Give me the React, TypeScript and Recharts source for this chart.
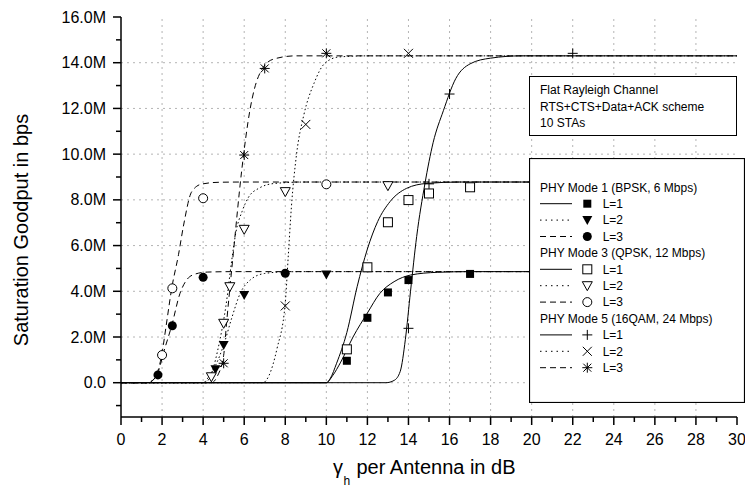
import React from "react";
import { ComposedChart, Line, Scatter, XAxis, YAxis, ReferenceLine, Legend } from "recharts";

const FONT = "'Liberation Sans', Arial, sans-serif";

// axis ticks (x in dB, y in Mbps)
const xTicks = [0, 1, 2, 3, 4, 5, 6, 7, 8, 9, 10, 11, 12, 13, 14, 15, 16, 17, 18, 19, 20, 21, 22, 23, 24, 25, 26, 27, 28, 29, 30];
const yTicks = [-1, 0, 1, 2, 3, 4, 5, 6, 7, 8, 9, 10, 11, 12, 13, 14, 15, 16];
const gridX = [2, 4, 6, 8, 10, 12, 14, 16, 18, 20, 22, 24, 26, 28];
const gridY = [0, 2, 4, 6, 8, 10, 12, 14];

type Pt = { x: number; y: number };

// PHY Mode 1 (BPSK)
const bpskL1Curve: Pt[] = [
  { x: 0, y: 0 }, { x: 10, y: 0 }, { x: 10.3, y: 0.3 }, { x: 10.7, y: 0.9 }, { x: 11.3, y: 2.0 },
  { x: 12, y: 3.05 }, { x: 12.6, y: 3.9 }, { x: 13.3, y: 4.42 }, { x: 14.1, y: 4.71 },
  { x: 15.4, y: 4.83 }, { x: 17, y: 4.86 }, { x: 30, y: 4.86 },
];
const bpskL1Pts: Pt[] = [
  { x: 11, y: 0.96 }, { x: 12, y: 2.84 }, { x: 13, y: 3.95 }, { x: 14, y: 4.49 }, { x: 17, y: 4.76 },
];
const bpskL2Curve: Pt[] = [
  { x: 0, y: 0 }, { x: 4.0, y: 0 }, { x: 4.3, y: 0.3 }, { x: 4.6, y: 0.75 }, { x: 5.0, y: 1.65 },
  { x: 5.4, y: 2.85 }, { x: 5.8, y: 3.9 }, { x: 6.3, y: 4.5 }, { x: 7.0, y: 4.78 },
  { x: 8, y: 4.85 }, { x: 9, y: 4.86 }, { x: 30, y: 4.86 },
];
const bpskL2Pts: Pt[] = [
  { x: 4.6, y: 0.59 }, { x: 5, y: 1.65 }, { x: 6, y: 3.84 }, { x: 10, y: 4.73 },
];
const bpskL3Curve: Pt[] = [
  { x: 0, y: 0 }, { x: 1.2, y: 0 }, { x: 1.5, y: 0.08 }, { x: 1.8, y: 0.45 }, { x: 2.1, y: 1.4 },
  { x: 2.47, y: 2.5 }, { x: 2.87, y: 3.9 }, { x: 3.2, y: 4.5 }, { x: 3.6, y: 4.75 },
  { x: 4.2, y: 4.84 }, { x: 5.5, y: 4.86 }, { x: 30, y: 4.86 },
];
const bpskL3Pts: Pt[] = [
  { x: 1.8, y: 0.34 }, { x: 2.5, y: 2.49 }, { x: 4, y: 4.61 }, { x: 8, y: 4.79 },
];

// PHY Mode 3 (QPSK)
const qpskL1Curve: Pt[] = [
  { x: 0, y: 0 }, { x: 10, y: 0 }, { x: 10.2, y: 0.2 }, { x: 10.5, y: 0.85 }, { x: 11, y: 2.2 },
  { x: 11.5, y: 4.2 }, { x: 12, y: 5.85 }, { x: 12.5, y: 7.05 }, { x: 13.1, y: 7.92 },
  { x: 13.9, y: 8.5 }, { x: 14.9, y: 8.72 }, { x: 16.5, y: 8.78 }, { x: 30, y: 8.78 },
];
const qpskL1Pts: Pt[] = [
  { x: 11, y: 1.46 }, { x: 12, y: 5.05 }, { x: 13, y: 7.02 }, { x: 14, y: 7.99 }, { x: 15, y: 8.28 }, { x: 17, y: 8.55 },
];
const qpskL2Curve: Pt[] = [
  { x: 0, y: 0 }, { x: 4.1, y: 0 }, { x: 4.4, y: 0.4 }, { x: 4.8, y: 1.8 }, { x: 5.1, y: 3.3 },
  { x: 5.4, y: 5.4 }, { x: 5.6, y: 6.6 }, { x: 5.9, y: 7.5 }, { x: 6.2, y: 8.1 },
  { x: 6.7, y: 8.5 }, { x: 7.5, y: 8.72 }, { x: 9, y: 8.78 }, { x: 30, y: 8.78 },
];
const qpskL2Pts: Pt[] = [
  { x: 4.4, y: 0.26 }, { x: 5, y: 2.6 }, { x: 5.3, y: 4.2 }, { x: 6, y: 6.71 }, { x: 8, y: 8.36 }, { x: 13, y: 8.62 },
];
const qpskL3Curve: Pt[] = [
  { x: 0, y: 0 }, { x: 1.3, y: 0 }, { x: 1.6, y: 0.15 }, { x: 1.98, y: 1.2 }, { x: 2.2, y: 2.5 },
  { x: 2.47, y: 4.13 }, { x: 2.8, y: 5.6 }, { x: 3.05, y: 6.9 }, { x: 3.44, y: 8.35 },
  { x: 3.93, y: 8.69 }, { x: 4.8, y: 8.77 }, { x: 6, y: 8.78 }, { x: 30, y: 8.78 },
];
const qpskL3Pts: Pt[] = [
  { x: 2, y: 1.21 }, { x: 2.5, y: 4.13 }, { x: 4, y: 8.07 }, { x: 10, y: 8.68 },
];

// PHY Mode 5 (16QAM)
const qamL1Curve: Pt[] = [
  { x: 0, y: 0 }, { x: 12.9, y: 0 }, { x: 13.3, y: 0.1 }, { x: 13.6, y: 0.5 }, { x: 13.85, y: 1.9 },
  { x: 14.1, y: 4.0 }, { x: 14.4, y: 6.4 }, { x: 14.8, y: 8.7 }, { x: 15.2, y: 10.5 },
  { x: 15.7, y: 11.9 }, { x: 16.3, y: 13.3 }, { x: 17, y: 13.95 }, { x: 18, y: 14.2 },
  { x: 19.5, y: 14.3 }, { x: 30, y: 14.3 },
];
const qamL1Pts: Pt[] = [
  { x: 14, y: 2.38 }, { x: 15, y: 8.7 }, { x: 16, y: 12.63 }, { x: 22, y: 14.41 },
];
const qamL2Curve: Pt[] = [
  { x: 0, y: 0 }, { x: 6.9, y: 0 }, { x: 7.2, y: 0.3 }, { x: 7.6, y: 1.5 }, { x: 8.0, y: 3.5 },
  { x: 8.15, y: 5.6 }, { x: 8.3, y: 7.7 }, { x: 8.55, y: 10.0 }, { x: 8.9, y: 11.7 },
  { x: 9.4, y: 13.1 }, { x: 9.9, y: 13.95 }, { x: 10.6, y: 14.25 }, { x: 12, y: 14.3 }, { x: 30, y: 14.3 },
];
const qamL2Pts: Pt[] = [
  { x: 8, y: 3.36 }, { x: 9, y: 11.3 }, { x: 14, y: 14.41 },
];
const qamL3Curve: Pt[] = [
  { x: 0, y: 0 }, { x: 4.4, y: 0 }, { x: 4.7, y: 0.3 }, { x: 5.0, y: 1.2 }, { x: 5.15, y: 2.7 },
  { x: 5.47, y: 5.66 }, { x: 5.88, y: 9.3 }, { x: 6.28, y: 11.93 }, { x: 6.69, y: 13.39 },
  { x: 7.4, y: 14.15 }, { x: 8.5, y: 14.3 }, { x: 30, y: 14.3 },
];
const qamL3Pts: Pt[] = [
  { x: 5, y: 0.85 }, { x: 6, y: 9.96 }, { x: 7, y: 13.75 }, { x: 10, y: 14.41 },
];

const legendGroups = ["PHY Mode 1 (BPSK, 6 Mbps)", "PHY Mode 3 (QPSK, 12 Mbps)", "PHY Mode 5 (16QAM, 24 Mbps)"];
const noteLines = ["Flat Rayleigh Channel", "RTS+CTS+Data+ACK scheme", "10 STAs"];

const SOLID = "";
const DOT = "1.5 2.5";
const DASH = "6 4";

const series = [
  { label: "L=1", curve: bpskL1Curve, pts: bpskL1Pts, dash: SOLID, marker: "squareF" },
  { label: "L=2", curve: bpskL2Curve, pts: bpskL2Pts, dash: DOT, marker: "triF" },
  { label: "L=3", curve: bpskL3Curve, pts: bpskL3Pts, dash: DASH, marker: "circleF" },
  { label: "L=1", curve: qpskL1Curve, pts: qpskL1Pts, dash: SOLID, marker: "squareO" },
  { label: "L=2", curve: qpskL2Curve, pts: qpskL2Pts, dash: DOT, marker: "triO" },
  { label: "L=3", curve: qpskL3Curve, pts: qpskL3Pts, dash: DASH, marker: "circleO" },
  { label: "L=1", curve: qamL1Curve, pts: qamL1Pts, dash: SOLID, marker: "plus" },
  { label: "L=2", curve: qamL2Curve, pts: qamL2Pts, dash: DOT, marker: "cross" },
  { label: "L=3", curve: qamL3Curve, pts: qamL3Pts, dash: DASH, marker: "star" },
];

function Marker({ kind, cx, cy }: { kind: string; cx: number; cy: number }) {
  const k = "#000";
  switch (kind) {
    case "squareF":
      return <rect x={cx - 4} y={cy - 4} width={8} height={8} fill={k} />;
    case "squareO":
      return <rect x={cx - 4.5} y={cy - 4.5} width={9} height={9} fill="#fff" stroke={k} strokeWidth={1} />;
    case "triF":
      return <polygon points={`${cx - 5},${cy - 4} ${cx + 5},${cy - 4} ${cx},${cy + 5}`} fill={k} />;
    case "triO":
      return <polygon points={`${cx - 5},${cy - 4} ${cx + 5},${cy - 4} ${cx},${cy + 5}`} fill="#fff" stroke={k} strokeWidth={1} />;
    case "circleF":
      return <circle cx={cx} cy={cy} r={4.5} fill={k} />;
    case "circleO":
      return <circle cx={cx} cy={cy} r={4.5} fill="#fff" stroke={k} strokeWidth={1} />;
    case "plus":
      return (
        <g stroke={k} strokeWidth={1}>
          <line x1={cx - 5} x2={cx + 5} y1={cy} y2={cy} />
          <line x1={cx} x2={cx} y1={cy - 5} y2={cy + 5} />
        </g>
      );
    case "cross":
      return (
        <g stroke={k} strokeWidth={1}>
          <line x1={cx - 4.5} x2={cx + 4.5} y1={cy - 4.5} y2={cy + 4.5} />
          <line x1={cx - 4.5} x2={cx + 4.5} y1={cy + 4.5} y2={cy - 4.5} />
        </g>
      );
    default:
      return (
        <g stroke={k} strokeWidth={1}>
          <line x1={cx - 4} x2={cx + 4} y1={cy - 4} y2={cy + 4} />
          <line x1={cx - 4} x2={cx + 4} y1={cy + 4} y2={cy - 4} />
          <line x1={cx} x2={cx} y1={cy - 5} y2={cy + 5} />
          <line x1={cx - 5} x2={cx + 5} y1={cy} y2={cy} />
        </g>
      );
  }
}

const fmtY = (v: number) => (v === 0 ? "0.0" : `${v.toFixed(1)}M`);

const LeftTick = (p: any) => {
  const v = p.payload.value;
  const major = v % 2 === 0;
  return (
    <g>
      <line x1={p.x} x2={p.x - (major ? 8 : 5)} y1={p.y} y2={p.y} stroke="#000" strokeWidth={1.5} />
      {major && v >= 0 && (
        <text x={p.x - 15} y={p.y} dy="0.35em" textAnchor="end" fontSize={16} fontFamily={FONT} fill="#000">
          {fmtY(v)}
        </text>
      )}
    </g>
  );
};

const RightTick = (p: any) => {
  const major = p.payload.value % 2 === 0;
  return <line x1={p.x} x2={p.x - (major ? 8 : 5)} y1={p.y} y2={p.y} stroke="#000" strokeWidth={1.5} />;
};

const BottomTick = (p: any) => {
  const v = p.payload.value;
  const major = v % 2 === 0;
  return (
    <g>
      <line x1={p.x} x2={p.x} y1={p.y} y2={p.y + (major ? 8 : 5)} stroke="#000" strokeWidth={1.5} />
      {major && (
        <text x={p.x} y={p.y + 22} dy="0.35em" textAnchor="middle" fontSize={16} fontFamily={FONT} fill="#000">
          {v}
        </text>
      )}
    </g>
  );
};

const TopTick = (p: any) => {
  const major = p.payload.value % 2 === 0;
  return <line x1={p.x} x2={p.x} y1={p.y} y2={p.y + (major ? 8 : 5)} stroke="#000" strokeWidth={1.5} />;
};

const XTitle = () => (
  <g fontFamily={FONT} fill="#000">
    <text x={333} y={474} fontSize={20}>γ</text>
    <text x={343.5} y={485} fontSize={12}>h</text>
    <text x={356.5} y={474} fontSize={20}>per Antenna in dB</text>
  </g>
);

const YTitle = () => (
  <text x={28} y={230} transform="rotate(-90 28 230)" textAnchor="middle" fontSize={20} fontFamily={FONT} fill="#000">
    Saturation Goodput in bps
  </text>
);

function LegendBox() {
  const rowY = (r: number) => 29.3 + r * 16.4;
  return (
    <svg width={216} height={245} style={{ display: "block" }} fontFamily={FONT}>
      <rect x={0.5} y={0.5} width={215} height={244} fill="#fff" stroke="#000" strokeWidth={1.2} />
      {legendGroups.map((g, gi) => (
        <text key={g} x={11} y={rowY(gi * 4)} dy="0.35em" fontSize={12} fill="#000">
          {g}
        </text>
      ))}
      {series.map((s, i) => {
        const y = rowY(Math.floor(i / 3) * 4 + (i % 3) + 1);
        return (
          <g key={i}>
            <line x1={11} x2={43} y1={y} y2={y} stroke="#000" strokeWidth={1}
              strokeDasharray={s.dash === DOT ? "1.5 4" : s.dash === DASH ? "6 4" : undefined} />
            <Marker kind={s.marker} cx={58.3} cy={y} />
            <text x={73.7} y={y} dy="0.35em" fontSize={12} fill="#000">
              {s.label}
            </text>
          </g>
        );
      })}
    </svg>
  );
}

export default function App() {
  return (
    <div style={{ position: "absolute", left: 0, top: 0, width: 745, height: 487, background: "#fff", fontFamily: FONT }}>
      <ComposedChart width={745} height={487} margin={{ top: 17, right: 8, bottom: 0, left: 0 }}>
        <XAxis
          dataKey="x" type="number" domain={[0, 30]} ticks={xTicks} interval={0} allowDataOverflow
          height={70} tickSize={0} tickMargin={0} tickLine={false} tick={BottomTick}
          axisLine={{ stroke: "#000", strokeWidth: 1.5 }} label={{ content: XTitle }}
        />
        <XAxis
          xAxisId="top" orientation="top" dataKey="x" type="number" domain={[0, 30]} ticks={xTicks} interval={0}
          allowDataOverflow height={0} tickSize={0} tickMargin={0} tickLine={false} tick={TopTick}
          axisLine={{ stroke: "#000", strokeWidth: 1.5 }}
        />
        <YAxis
          type="number" domain={[-1.5, 16]} ticks={yTicks} interval={0} allowDataOverflow width={121}
          tickSize={0} tickMargin={0} tickLine={false} tick={LeftTick}
          axisLine={{ stroke: "#000", strokeWidth: 1.5 }} label={{ content: YTitle }}
        />
        <YAxis
          yAxisId="right" orientation="right" type="number" domain={[-1.5, 16]} ticks={yTicks} interval={0}
          allowDataOverflow width={0} tickSize={0} tickMargin={0} tickLine={false} tick={RightTick}
          axisLine={{ stroke: "#000", strokeWidth: 1.5 }}
        />
        {gridX.map((v) => (
          <ReferenceLine key={`gx${v}`} x={v} stroke="#b4b4b4" strokeDasharray="2 4" strokeWidth={1} />
        ))}
        {gridY.map((v) => (
          <ReferenceLine key={`gy${v}`} y={v} stroke="#b4b4b4" strokeDasharray="2 4" strokeWidth={1} />
        ))}
        {series.map((s, i) => (
          <Line
            key={`l${i}`} data={s.curve} dataKey="y" type="monotone" stroke="#000" strokeWidth={1}
            strokeDasharray={s.dash || undefined} dot={false} activeDot={false}
            isAnimationActive={false} legendType="none"
          />
        ))}
        {series.map((s, i) => (
          <Scatter
            key={`s${i}`} data={s.pts} dataKey="y" isAnimationActive={false} legendType="none"
            shape={(p: any) => <Marker kind={s.marker} cx={p.cx} cy={p.cy} />}
          />
        ))}
        <Legend
          layout="vertical" align="center" verticalAlign="middle"
          wrapperStyle={{ left: 529, top: 158, width: 216, height: 245 }}
          content={() => <LegendBox />}
        />
      </ComposedChart>
      <div
        style={{
          position: "absolute", left: 529, top: 76, width: 196, height: 53, border: "1px solid #000",
          background: "#fff", fontSize: 12, lineHeight: "16.5px", padding: "5px 0 0 10px", boxSizing: "content-box",
          color: "#000",
        }}
      >
        {noteLines.map((t) => (
          <div key={t}>{t}</div>
        ))}
      </div>
    </div>
  );
}
